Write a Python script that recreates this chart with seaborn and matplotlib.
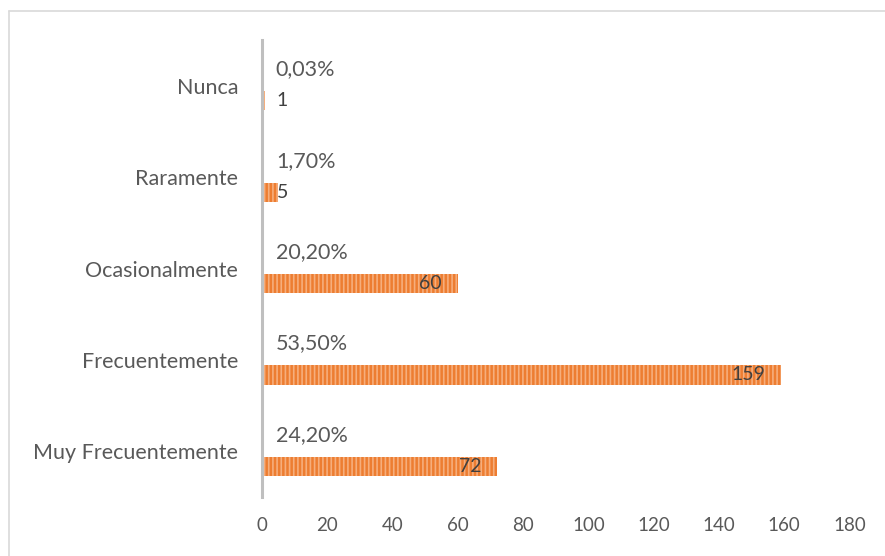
import pandas as pd
import matplotlib.pyplot as plt
import seaborn as sns
from matplotlib.lines import Line2D

categorias = ["Nunca", "Raramente", "Ocasionalmente", "Frecuentemente", "Muy Frecuentemente"]
frecuencia = [1, 5, 60, 159, 72]
porcentaje = [0.0003, 0.017, 0.202, 0.535, 0.242]
etiquetas_pct = ["0,03%", "1,70%", "20,20%", "53,50%", "24,20%"]

df = pd.DataFrame({
    "categoria": categorias * 2,
    "valor": porcentaje + frecuencia,
    "serie": ["Porcentaje"] * 5 + ["Frecuencia"] * 5,
})

sns.set_theme(style="white")
plt.rcParams["font.family"] = ["Lato", "DejaVu Sans"]
plt.rcParams["hatch.linewidth"] = 1.2
gris = "#595959"

fig = plt.figure(figsize=(8.85, 5.56), dpi=100)
ax = fig.add_axes([0.296, 0.106, 0.664, 0.822])

sns.barplot(data=df, y="categoria", x="valor", hue="serie", orient="h",
            order=categorias, hue_order=["Porcentaje", "Frecuencia"],
            palette={"Porcentaje": (0, 0, 0, 0), "Frecuencia": "#ED7D31"},
            saturation=1, width=0.656, gap=0.36, legend=False, ax=ax)

for p in ax.patches:
    if p.get_width() > 0.9:
        p.set_hatch("||||")
        p.set_edgecolor("#F6AE7C")
        p.set_linewidth(0)

off = 0.164
for i, cat in enumerate(categorias):
    ax.annotate(etiquetas_pct[i], xy=(0, i - off), xytext=(10, 1), textcoords="offset points",
                ha="left", va="center", color=gris, fontsize=15.5)
    v = frecuencia[i]
    if v > 20:
        ax.annotate(str(v), xy=(v, i + off), xytext=(-11.5, 0), textcoords="offset points",
                    ha="right", va="center", color="#404040", fontsize=14)
    else:
        ax.annotate(str(v), xy=(0, i + off), xytext=(10.5, 0), textcoords="offset points",
                    ha="left", va="center", color="#404040", fontsize=14)

ax.set_xlim(0, 180)
ax.set_ylim(4.5, -0.5)
ax.set_xticks(range(0, 181, 20))
ax.set_xlabel("")
ax.set_ylabel("")
ax.tick_params(axis="both", length=0, labelcolor=gris)
ax.tick_params(axis="x", pad=14, labelsize=13.5)
ax.tick_params(axis="y", pad=17, labelsize=15.5)
for s in ["top", "right", "bottom"]:
    ax.spines[s].set_visible(False)
ax.spines["left"].set_color("#BFBFBF")
ax.spines["left"].set_linewidth(2.2)
ax.grid(False)

fig.add_artist(Line2D([9 / 885, 9 / 885], [0, 1 - 11 / 556], color="#D9D9D9", lw=1.2, transform=fig.transFigure))
fig.add_artist(Line2D([9 / 885, 1], [1 - 11 / 556, 1 - 11 / 556], color="#D9D9D9", lw=1.2, transform=fig.transFigure))

fig.savefig("out.png", dpi=100)
